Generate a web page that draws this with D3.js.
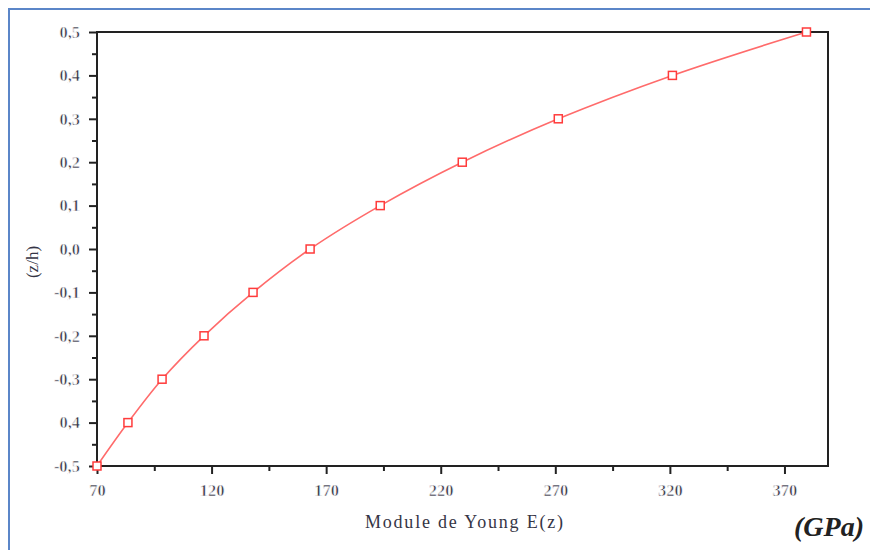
<!DOCTYPE html>
<html>
<head>
<meta charset="utf-8">
<script src="https://cdn.jsdelivr.net/npm/d3@7"></script>
<style>
  body { margin: 0; background: #fff; }
  svg { display: block; }
</style>
</head>
<body>
<script>
// values
var young_modulus = [70, 83.5, 98.4, 116.7, 138.1, 163, 193.6, 229.4, 271.3, 321.1, 379.6];
var z_ratio = [-0.5, -0.4, -0.3, -0.2, -0.1, 0.0, 0.1, 0.2, 0.3, 0.4, 0.5];
var x_ticks = [70, 120, 170, 220, 270, 320, 370];
var y_ticks = [-0.5, -0.4, -0.3, -0.2, -0.1, 0.0, 0.1, 0.2, 0.3, 0.4, 0.5];
var y_tick_labels = ["-0,5", "0,4", "-0,3", "-0,2", "-0,1", "0,0", "0,1", "0,2", "0,3", "0,4", "0,5"];

var w = 870, h = 550;
var plot = {left: 97, right: 828, top: 32, bottom: 466};
var txt_color = "#353545";
var serif = "'Liberation Serif', 'Times New Roman', serif";

var svg = d3.select("body").append("svg")
  .attr("width", w)
  .attr("height", h);

// blue frame round the figure
svg.append("rect")
  .attr("x", 9).attr("y", 9)
  .attr("width", w + 20).attr("height", h + 20)
  .style("fill", "none")
  .style("stroke", "#5b86c8")
  .style("stroke-width", 2);

var x = d3.scaleLinear().domain([70, 389]).range([plot.left, plot.right]);
var y = d3.scaleLinear().domain([-0.5, 0.5]).range([plot.bottom, plot.top]);

// minor ticks first so the axis line covers their roots
var x_minor = d3.range(95, 389, 50);
var y_minor = d3.range(-0.45, 0.5, 0.1);

svg.append("g")
  .attr("transform", "translate(0," + plot.bottom + ")")
  .call(d3.axisBottom(x).tickValues(x_minor).tickSize(5).tickFormat(""))
  .call(function(g){ g.select(".domain").remove(); })
  .selectAll("line").attr("stroke", "#222").attr("stroke-width", 2);

svg.append("g")
  .attr("transform", "translate(" + plot.left + ",0)")
  .call(d3.axisLeft(y).tickValues(y_minor).tickSize(5).tickFormat(""))
  .call(function(g){ g.select(".domain").remove(); })
  .selectAll("line").attr("stroke", "#222").attr("stroke-width", 2);

// major ticks and labels
var gx = svg.append("g")
  .attr("transform", "translate(0," + plot.bottom + ")")
  .call(d3.axisBottom(x).tickValues(x_ticks).tickSize(8).tickSizeOuter(0).tickPadding(10).tickFormat(d3.format("d")));

var gy = svg.append("g")
  .attr("transform", "translate(" + plot.left + ",0)")
  .call(d3.axisLeft(y).tickValues(y_ticks).tickSize(8).tickSizeOuter(0).tickPadding(9)
    .tickFormat(function(d, i){ return y_tick_labels[i]; }));

[gx, gy].forEach(function(g){
  g.select(".domain").remove();
  g.selectAll("line").attr("stroke", "#222").attr("stroke-width", 2);
  g.selectAll("text")
    .attr("fill", txt_color)
    .style("font-family", serif)
    .style("font-size", "16.5px")
    .style("font-weight", "bold")
    .style("stroke", "#fff")
    .style("stroke-width", 0.6)
    .style("paint-order", "normal");
});

// plot box
svg.append("rect")
  .attr("x", plot.left).attr("y", plot.top)
  .attr("width", plot.right - plot.left)
  .attr("height", plot.bottom - plot.top)
  .style("fill", "none")
  .style("stroke", "#222")
  .style("stroke-width", 2);

// curve
var pts = young_modulus.map(function(e, i){ return [e, z_ratio[i]]; });

var line = d3.line()
  .x(function(d){ return x(d[0]); })
  .y(function(d){ return y(d[1]); })
  .curve(d3.curveCatmullRom);

svg.append("path")
  .datum(pts)
  .attr("d", line)
  .style("fill", "none")
  .style("stroke", "#ff6b6b")
  .style("stroke-width", 1.6);

svg.selectAll(".marker")
  .data(pts)
  .enter().append("rect")
  .attr("class", "marker")
  .attr("x", function(d){ return x(d[0]) - 4; })
  .attr("y", function(d){ return y(d[1]) - 4; })
  .attr("width", 8).attr("height", 8)
  .style("fill", "#fff")
  .style("stroke", "#ff3b3b")
  .style("stroke-width", 1.5);

// axis titles
svg.append("text")
  .attr("x", 464).attr("y", 528)
  .attr("text-anchor", "middle")
  .attr("textLength", 198)
  .attr("lengthAdjust", "spacing")
  .attr("fill", txt_color)
  .style("font-family", serif)
  .style("font-size", "18px")
  .text("Module de Young E(z)");

svg.append("text")
  .attr("transform", "translate(38,262) rotate(-90)")
  .attr("text-anchor", "middle")
  .attr("fill", txt_color)
  .style("font-family", serif)
  .style("font-size", "17px")
  .text("(z/h)");

svg.append("text")
  .attr("x", 794).attr("y", 536)
  .attr("fill", "#222")
  .style("font-family", serif)
  .style("font-size", "28px")
  .style("font-weight", "bold")
  .style("font-style", "italic")
  .text("(GPa)");
</script>
</body>
</html>
